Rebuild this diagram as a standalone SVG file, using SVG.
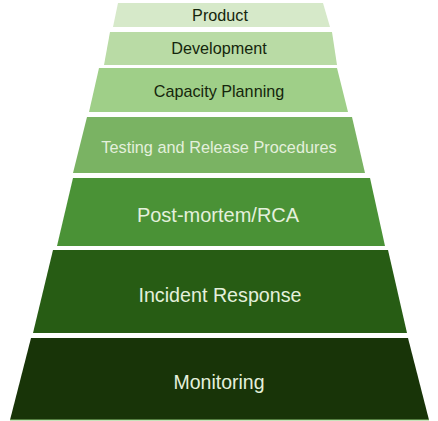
<svg xmlns="http://www.w3.org/2000/svg" width="438" height="421" viewBox="0 0 438 421">
<style>
  text { font-family: "Liberation Sans", Arial, sans-serif; text-anchor: middle; }
  .dark { fill: #15260c; }
  .light { fill: #e4f0dc; }
</style>
<rect width="438" height="421" fill="#ffffff"/>
<g id="product">
  <polygon points="118,3 323,3 330,27 113,27" fill="#d6e9c9"/>
  <text x="220" y="21" font-size="16.2" class="dark">Product</text>
</g>
<g id="development">
  <polygon points="110,32 332,32 337,65 104,65" fill="#b9dba5"/>
  <text x="219" y="54" font-size="16.2" class="dark">Development</text>
</g>
<g id="capacity-planning">
  <polygon points="99,68 337,68 348,112 89,112" fill="#9fcf88"/>
  <text x="219" y="97" font-size="16.2" class="dark">Capacity Planning</text>
</g>
<g id="testing">
  <polygon points="87,117 352,117 365,173 73,173" fill="#7ab363"/>
  <text x="219" y="152.5" font-size="16.3" class="light">Testing and Release Procedures</text>
</g>
<g id="postmortem">
  <polygon points="73,178 370,178 385,246 57,246" fill="#4a9236"/>
  <text x="218" y="221.5" font-size="20" class="light">Post-mortem/RCA</text>
</g>
<g id="incident-response">
  <polygon points="53,250 388,250 407,333 33,333" fill="#275c14"/>
  <text x="220" y="301.5" font-size="19.7" class="light">Incident Response</text>
</g>
<g id="monitoring">
  <polygon points="31,338 408,338 429,420 10,420" fill="#183408"/>
  <line x1="10" y1="420" x2="429" y2="420" stroke="#8fc878" stroke-width="1.2"/>
  <text x="219" y="389" font-size="19.5" class="light">Monitoring</text>
</g>
<g id="connectors"></g>
</svg>
